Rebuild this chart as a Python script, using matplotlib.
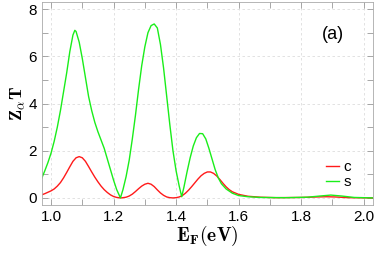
import numpy as np
import matplotlib.pyplot as plt

plt.rcParams['font.family'] = ['Liberation Sans', 'DejaVu Sans']
plt.rcParams['mathtext.fontset'] = 'cm'

# Z_alpha T for channel c (red)
e_c = [0.97, 0.98, 0.99, 1.0, 1.01, 1.02, 1.03, 1.04, 1.05, 1.06, 1.07, 1.08,
       1.09, 1.10, 1.11, 1.12, 1.13, 1.14, 1.15, 1.16, 1.17, 1.18, 1.19, 1.20,
       1.21, 1.225, 1.24, 1.25, 1.26, 1.27, 1.28, 1.29, 1.30, 1.31, 1.32, 1.33,
       1.34, 1.35, 1.36, 1.37, 1.38, 1.39, 1.40, 1.41, 1.42, 1.43, 1.44, 1.45,
       1.46, 1.47, 1.48, 1.49, 1.50, 1.51, 1.52, 1.53, 1.54, 1.55, 1.56, 1.57,
       1.58, 1.60, 1.63, 1.67, 1.72, 1.8, 1.85, 1.88, 1.91, 1.95, 2.03]
z_c = [0.13, 0.18, 0.24, 0.3, 0.38, 0.5, 0.65, 0.85, 1.08, 1.32, 1.55, 1.7,
       1.75, 1.7, 1.55, 1.33, 1.1, 0.88, 0.68, 0.5, 0.35, 0.23, 0.13, 0.06,
       0.02, 0.0, 0.03, 0.08, 0.16, 0.27, 0.39, 0.5, 0.58, 0.62, 0.58, 0.48,
       0.34, 0.21, 0.11, 0.04, 0.01, 0.0, 0.01, 0.04, 0.1, 0.2, 0.33, 0.48,
       0.64, 0.8, 0.94, 1.04, 1.1, 1.1, 1.04, 0.93, 0.78, 0.62, 0.47, 0.35,
       0.26, 0.15, 0.07, 0.03, 0.01, 0.02, 0.04, 0.05, 0.04, 0.01, 0.0]

# Z_alpha T for channel s (green)
e_s = [0.97, 0.98, 0.99, 1.0, 1.01, 1.02, 1.03, 1.04, 1.05, 1.06, 1.07, 1.076,
       1.08, 1.09, 1.10, 1.11, 1.12, 1.13, 1.14, 1.15, 1.16, 1.17, 1.18, 1.19,
       1.20, 1.21, 1.222, 1.23, 1.24, 1.25, 1.26, 1.27, 1.28, 1.29, 1.30, 1.31,
       1.32, 1.33, 1.34, 1.35, 1.36, 1.37, 1.38, 1.39, 1.40, 1.41, 1.418, 1.425,
       1.435, 1.445, 1.455, 1.465, 1.475, 1.485, 1.495, 1.505, 1.515, 1.525,
       1.535, 1.545, 1.56, 1.58, 1.60, 1.63, 1.67, 1.75, 1.82, 1.86, 1.895,
       1.93, 1.97, 2.03]
z_s = [0.83, 1.15, 1.5, 1.9, 2.4, 3.0, 3.7, 4.5, 5.3, 6.2, 6.9, 7.1,
       7.05, 6.6, 5.9, 5.1, 4.3, 3.7, 3.2, 2.8, 2.45, 2.1, 1.65, 1.2,
       0.75, 0.35, 0.0, 0.35, 0.9, 1.6, 2.5, 3.5, 4.6, 5.6, 6.4, 7.0,
       7.3, 7.37, 7.2, 6.5, 5.5, 4.3, 3.1, 2.0, 1.15, 0.5, 0.05, 0.45,
       1.1, 1.7, 2.2, 2.55, 2.73, 2.72, 2.5, 2.1, 1.65, 1.2,
       0.85, 0.6, 0.38, 0.2, 0.1, 0.05, 0.02, 0.01, 0.03, 0.08, 0.12,
       0.08, 0.02, 0.0]

fig = plt.figure(figsize=(3.74, 2.57), dpi=100)
ax = fig.add_axes([42/374, 52/257, 331/374, 203/257])

ax.plot(e_c, z_c, color='#ff1a1a', lw=1.0, label='c')
ax.plot(e_s, z_s, color='#1aee1a', lw=1.0, label='s')

ax.set_xlim(0.971, 2.03)
ax.set_ylim(-0.3, 8.3)
ax.set_xticks(np.arange(1.0, 2.01, 0.2))
ax.set_xticks(np.arange(1.1, 2.01, 0.2), minor=True)
ax.set_yticks(np.arange(0, 9, 2))
ax.set_yticks(np.arange(1, 9, 2), minor=True)
ax.grid(True, which='major', ls=(0, (3, 3)), color='#dddddd', lw=0.6)
ax.tick_params(which='both', direction='in', length=4, color='#999999',
               labelsize=11, top=True, right=True, width=0.6)
for s in ax.spines.values():
    s.set_color('#aaaaaa')
    s.set_linewidth(0.6)

ax.set_xlabel(r'$\mathbf{E_F(eV)}$', fontsize=14, labelpad=0)
ax.set_ylabel(r'$\mathbf{Z_\alpha T}$', fontsize=13, labelpad=1)
ax.text(0.88, 0.842, '(a)', transform=ax.transAxes, fontsize=13,
        ha='center', va='center')
ax.legend(loc='center right', bbox_to_anchor=(0.935, 0.15), frameon=False,
          fontsize=11, handlelength=0.9, handletextpad=0.3, labelspacing=0.05,
          borderpad=0, borderaxespad=0)

fig.savefig('out.png', dpi=100)
